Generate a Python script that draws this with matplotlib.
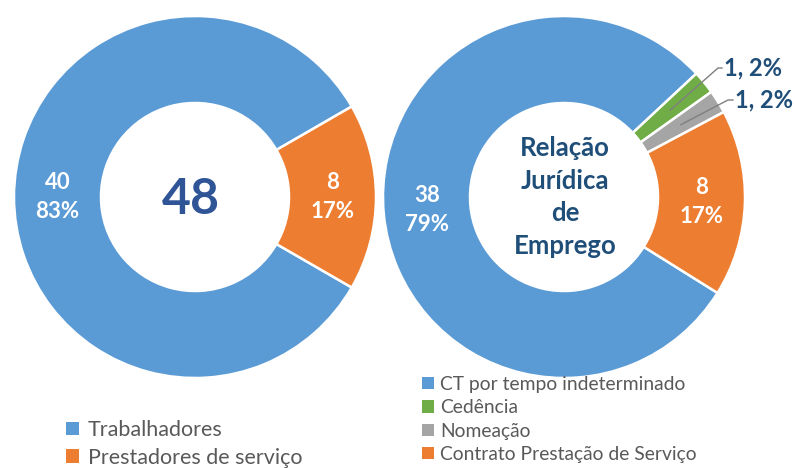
import matplotlib
matplotlib.use("Agg")
import matplotlib.pyplot as plt
from matplotlib.patches import Patch
import numpy as np

# ---- data ----
left_labels = ["Trabalhadores", "Prestadores de serviço"]
left_values = [40, 8]
left_pct = [83, 17]
left_center_text = "48"

right_labels = ["CT por tempo indeterminado", "Cedência", "Nomeação",
                "Contrato Prestação de Serviço"]
right_values = [38, 1, 1, 8]
right_pct = [79, 2, 2, 17]
right_center_text = "Relação\nJurídica\nde\nEmprego"

# ---- style ----
colors_left = ["#5B9BD5", "#ED7D31"]
colors_right = ["#5B9BD5", "#70AD47", "#A5A5A5", "#ED7D31"]
FONT = ["Lato", "DejaVu Sans"]
plt.rcParams['font.family'] = FONT

W, H = 795, 468
fig = plt.figure(figsize=(W / 100, H / 100), dpi=100)
ax = fig.add_axes([0, 0, 1, 1])


def py(y):
    return H - y


R = 181
R_IN = 94
cl = (195, py(197))
cr = (564, py(197))
wp = dict(width=R - R_IN, edgecolor="white", linewidth=1.8)

wl, _ = ax.pie(left_values, colors=colors_left, center=cl, radius=R,
               startangle=-30, counterclock=False, wedgeprops=wp, frame=True)
wr, _ = ax.pie(right_values, colors=colors_right, center=cr, radius=R,
               startangle=-32, counterclock=False, wedgeprops=wp, frame=True)

ax.set_xlim(0, W)
ax.set_ylim(0, H)
ax.set_aspect("equal")
ax.axis("off")

rmid = (R + R_IN) / 2


def inner_labels(wedges, values, pcts, center, skip=()):
    for i, (w, v, p) in enumerate(zip(wedges, values, pcts)):
        if i in skip:
            continue
        a = np.deg2rad((w.theta1 + w.theta2) / 2)
        x = center[0] + rmid * np.cos(a)
        y = center[1] + rmid * np.sin(a)
        ax.text(x, y, f"{v}\n{p}%", color="white", fontsize=16,
                fontweight="bold", ha="center", va="center", linespacing=1.45)


inner_labels(wl, left_values, left_pct, cl)
inner_labels(wr, right_values, right_pct, cr, skip=(1, 2))

# outside labels for small slices
text_pos = {1: (722, 68), 2: (733, 100)}
elbow = {1: (718, 68), 2: (728, 100)}
for i in (1, 2):
    w = wr[i]
    a = np.deg2rad((w.theta1 + w.theta2) / 2)
    x0 = cr[0] + rmid * np.cos(a)
    y0 = cr[1] + rmid * np.sin(a)
    ex, ey = elbow[i]
    tx, ty = text_pos[i]
    ax.plot([x0, ex, tx], [y0, py(ey), py(ty)], color="#7F7F7F", lw=1)
    ax.text(tx + 2, py(ty), f"{right_values[i]}, {right_pct[i]}%",
            color="#1F4E79", fontsize=17, fontweight="bold",
            ha="left", va="center")

# center texts
ax.text(cl[0] - 4, cl[1] - 3, left_center_text, color="#2F5597", fontsize=36,
        fontweight="bold", ha="center", va="center")
ax.text(cr[0] + 1, cr[1], right_center_text, color="#1F4E79", fontsize=18.5,
        fontweight="bold", ha="center", va="center", linespacing=1.42)

# legends
hl = [Patch(facecolor=c) for c in colors_left]
leg1 = ax.legend(hl, left_labels, loc="upper left",
                 bbox_to_anchor=(66 / W, 1 - 420 / H), frameon=False,
                 fontsize=15.5, labelcolor="#595959", handlelength=0.6,
                 handleheight=0.6, handletextpad=0.4, labelspacing=0.36,
                 borderpad=0, borderaxespad=0)
ax.add_artist(leg1)
hr = [Patch(facecolor=c) for c in colors_right]
ax.legend(hr, right_labels, loc="upper left",
          bbox_to_anchor=(422 / W, 1 - 376 / H), frameon=False,
          fontsize=13.9, labelcolor="#595959", handlelength=0.6,
          handleheight=0.6, handletextpad=0.35, labelspacing=0.33,
          borderpad=0, borderaxespad=0)

fig.savefig("out.png", dpi=100)
